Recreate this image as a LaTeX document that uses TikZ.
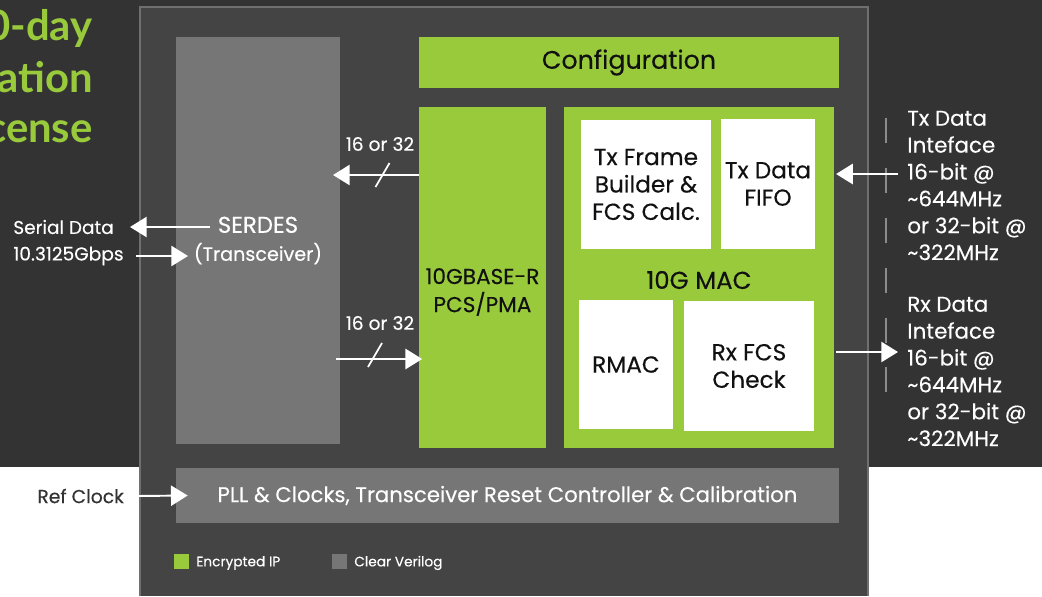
\documentclass[tikz,border=0pt]{standalone}
\usepackage{fontspec}
\setmainfont{Poppins}[FakeBold=0.25]
\newfontfamily\titlefont{Lato}
\usetikzlibrary{arrows.meta}

\definecolor{bgdark}{HTML}{333333}
\definecolor{corefill}{HTML}{434443}
\definecolor{coreline}{HTML}{6E6F6E}
\definecolor{clearip}{HTML}{757675}
\definecolor{encip}{HTML}{99CA3C}
\definecolor{dashgray}{HTML}{8C8C8C}
\definecolor{inktext}{HTML}{111111}

\begin{document}
\begin{tikzpicture}[x=0.02cm, y=-0.02cm,
  box/.style={inner sep=0pt, align=center},
  gbox/.style={box, fill=encip, text=inktext},
  wbox/.style={box, fill=white, text=inktext, font=\fontsize{13.2}{15.6}\selectfont},
  cbox/.style={box, fill=clearip, text=white, font=\fontsize{12.1}{15.9}\selectfont},
  lbl/.style={inner sep=0pt, align=left, text=white},
  wire/.style={draw=white, line width=1.1pt, -{Triangle[length=9.5pt, width=11.5pt]}},
  buslbl/.style={inner sep=0pt, text=white, font=\fontsize{10.6}{12}\selectfont},
  ttl/.style={inner sep=0pt, text=encip, font=\titlefont\bfseries\fontsize{23.8}{29}\selectfont}]
\useasboundingbox (0,0) rectangle (1042,596);

% backdrop
\fill[bgdark] (0,0) rectangle (1042,467);
\fill[white] (0,467) rectangle (1042,596);
\node[ttl, anchor=base east] (ttla) at (93,40) {0-day};
\node[ttl, anchor=base east] (ttlb) at (93,92) {ation};
\node[ttl, anchor=base east] (ttlc) at (93,142) {cense};

% core
\fill[corefill] (139,6) rectangle (869,596);
\draw[coreline, line width=1.2pt] (140,596) -- (140,7) -- (868,7) -- (868,596);

% blocks
\node[cbox, minimum width=3.28cm, minimum height=8.14cm] (serdes) at (258,240.5)
  {{\fontsize{13}{15.9}\selectfont SERDES}\\{\fontsize{10.9}{15.9}\selectfont (Transceiver)}};
\node[gbox, minimum width=8.4cm, minimum height=1.02cm, font=\fontsize{14.4}{16}\selectfont] (config) at (629,62.5) {Configuration};
\node[gbox, minimum width=2.54cm, minimum height=6.82cm] (pcs) at (482.5,277.5) {};
\node[box, text=inktext, font=\fontsize{12.3}{16}\selectfont] (pcslbl) at (482.5,292) {10GBASE-R\\PCS/PMA};
\node[gbox, minimum width=5.4cm, minimum height=6.82cm] (mac) at (699,277.5) {};
\node[box, text=inktext, font=\fontsize{13.9}{16}\selectfont] (maclbl) at (699,280) {10G MAC};
\node[wbox, minimum width=2.6cm, minimum height=2.58cm] (txfb) at (646,184.5) {Tx Frame\\Builder \&\\FCS Calc.};
\node[wbox, minimum width=1.88cm, minimum height=2.6cm] (txfifo) at (768,184) {Tx Data\\FIFO};
\node[wbox, minimum width=1.88cm, minimum height=2.58cm] (rmac) at (626,364.5) {RMAC};
\node[wbox, minimum width=2.6cm, minimum height=2.6cm] (rxfcs) at (749,366) {Rx FCS\\Check};
\node[cbox, minimum width=13.26cm, minimum height=1.1cm] (pll) at (507.5,495.5) {PLL \& Clocks, Transceiver Reset Controller \& Calibration};

% serial side
\node[lbl, anchor=west, font=\fontsize{10.5}{12}\selectfont] (sdata) at (13,227) {Serial Data};
\node[lbl, anchor=west, font=\fontsize{10.6}{12}\selectfont] (sgbps) at (13,256) {10.3125Gbps};
\coordinate (sdtx) at (210,227);
\coordinate (sdout) at (130,227);
\coordinate (sdin) at (136,256);
\coordinate (sdrx) at (188,256);
\draw[wire] (sdtx) -- (sdout);
\draw[wire] (sdin) -- (sdrx);

% parallel bus
\node[buslbl] (bustxlbl) at (380,144) {16 or 32};
\node[buslbl] (busrxlbl) at (380,323) {16 or 32};
\coordinate (bustx) at (333,175);
\coordinate (busrx) at (336,359);
\draw[wire] (pcs.west |- bustx) -- (bustx);
\draw[wire] (busrx) -- ([xshift=2pt]pcs.west |- busrx);
\draw[white, line width=1pt] (382.5,175) +(-7,12) -- +(7,-12);
\draw[white, line width=1pt] (375,355) +(-7,12) -- +(7,-12);

% user side
\draw[dashgray, line width=1.1pt, dash pattern=on 14.2pt off 14.2pt] (886,118) -- (886,395);
\coordinate (txin) at (898,174);
\coordinate (rxout) at (898,352);
\draw[wire] (txin) -- ([xshift=1pt]mac.east |- txin);
\draw[wire] ([xshift=1pt]mac.east |- rxout) -- (rxout);
\node[lbl, anchor=west, font=\fontsize{12.2}{15.3}\selectfont] (txif) at (907,185.5)
  {Tx Data\\Inteface\\16-bit @\\\textasciitilde644MHz\\or 32-bit @\\\textasciitilde322MHz};
\node[lbl, anchor=west, font=\fontsize{12.2}{15.3}\selectfont] (rxif) at (907,371.5)
  {Rx Data\\Inteface\\16-bit @\\\textasciitilde644MHz\\or 32-bit @\\\textasciitilde322MHz};

% clock
\node[inner sep=0pt, anchor=west, text=bgdark, font=\fontsize{10.7}{12}\selectfont] (refclk) at (37,496) {Ref Clock};
\coordinate (refin) at (137,496);
\draw[wire] (refin) -- ([xshift=6.8pt]pll.west);

% legend
\node[fill=encip, minimum size=0.3cm, inner sep=0pt] (keyenc) at (181.5,561.5) {};
\node[lbl, anchor=west, font=\fontsize{7.8}{9}\selectfont] (keyenctxt) at (196,563) {Encrypted IP};
\node[fill=clearip, minimum size=0.3cm, inner sep=0pt] (keyclr) at (339.5,561.5) {};
\node[lbl, anchor=west, font=\fontsize{7.8}{9}\selectfont] (keyclrtxt) at (354,563) {Clear Verilog};
\end{tikzpicture}
\end{document}
